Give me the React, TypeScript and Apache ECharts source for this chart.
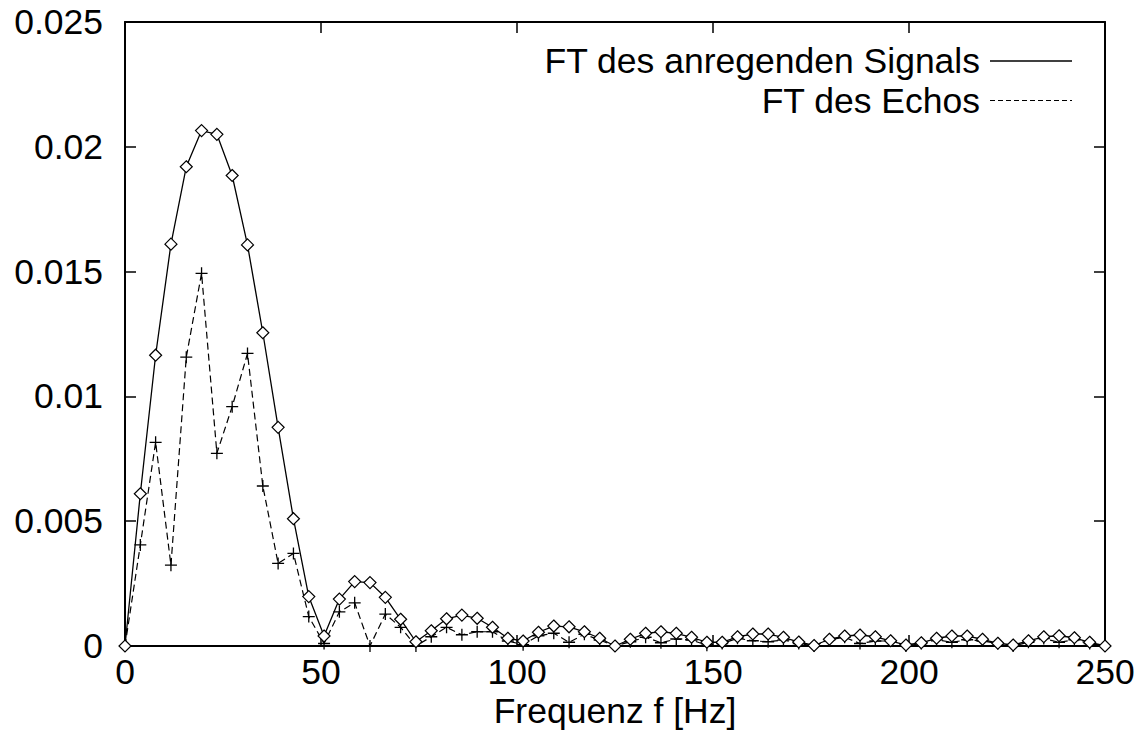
import React, { useEffect, useRef } from "react";
import * as echarts from "echarts";

// FFT bin frequencies (Hz), bin width 250/64 Hz
const frequencies = [
  0, 3.91, 7.81, 11.72, 15.63, 19.53, 23.44, 27.34, 31.25, 35.16, 39.06, 42.97, 46.88,
  50.78, 54.69, 58.59, 62.5, 66.41, 70.31, 74.22, 78.13, 82.03, 85.94, 89.84, 93.75,
  97.66, 101.56, 105.47, 109.38, 113.28, 117.19, 121.09, 125, 128.91, 132.81, 136.72,
  140.63, 144.53, 148.44, 152.34, 156.25, 160.16, 164.06, 167.97, 171.88, 175.78,
  179.69, 183.59, 187.5, 191.41, 195.31, 199.22, 203.13, 207.03, 210.94, 214.84,
  218.75, 222.66, 226.56, 230.47, 234.38, 238.28, 242.19, 246.09, 250,
];

// Spectrum magnitude of the exciting signal
const signalSpectrum = [
  0, 0.0061, 0.01165, 0.0161, 0.0192, 0.02065, 0.0205, 0.01885, 0.01607, 0.01255,
  0.00876, 0.0051, 0.00198, 0.0004, 0.00188, 0.00258, 0.00254, 0.00195, 0.00107,
  0.00017, 0.00061, 0.00109, 0.00124, 0.00111, 0.00075, 0.00031, 0.0002, 0.00055,
  0.0008, 0.00077, 0.00057, 0.00031, 0, 0.00027, 0.00051, 0.00057, 0.00051, 0.00035,
  0.00015, 0.00015, 0.00037, 0.00048, 0.00048, 0.00035, 0.00016, 0.00002, 0.00027,
  0.0004, 0.00044, 0.00037, 0.00021, 0.00004, 0.00013, 0.00031, 0.0004, 0.0004,
  0.00027, 0.00011, 0.00004, 0.00021, 0.00037, 0.00041, 0.00033, 0.00015, 0,
];

// Spectrum magnitude of the echo
const echoSpectrum = [
  0, 0.00405, 0.00816, 0.00324, 0.01157, 0.01493, 0.00772, 0.00959, 0.01172, 0.00641,
  0.00331, 0.00371, 0.00118, 0.0001, 0.00137, 0.00173, 0, 0.00128, 0.00075, 0,
  0.00037, 0.00075, 0.00045, 0.00057, 0.00057, 0.0002, 0.00005, 0.00041, 0.00051,
  0.00015, 0.00047, 0.00024, 0, 0.00017, 0.00035, 0.00013, 0.00028, 0.00024, 0.00003,
  0.0001, 0.00031, 0.00021, 0.00017, 0.00024, 0.0001, 0, 0.00025, 0.00035, 0.0001,
  0.0002, 0.0002, 0, 0.0001, 0.00025, 0.00015, 0.00025, 0.0002, 0.0001, 0, 0.00015,
  0.0003, 0.00015, 0.00025, 0.0001, 0,
];

const seriesNames = ["FT des anregenden Signals", "FT des Echos"];
const xAxisTitle = "Frequenz f [Hz]";

const FONT = "'Liberation Sans', Arial, Helvetica, sans-serif";
const FONT_SIZE = 35.5;
const LINE_HEIGHT = 28;

const pairs = (ys: number[]) => frequencies.map((f, i) => [f, ys[i]]);

export default function App() {
  const ref = useRef<HTMLDivElement>(null);

  useEffect(() => {
    if (!ref.current) return;
    const chart = echarts.init(ref.current, undefined, { renderer: "svg" });

    const axisLine = { show: true, onZero: false, lineStyle: { color: "#000", width: 2 } };
    const tick = { show: true, inside: true, length: 11, lineStyle: { color: "#000", width: 1.5 } };
    const label = {
      color: "#000",
      fontSize: FONT_SIZE,
      fontFamily: FONT,
      lineHeight: LINE_HEIGHT,
    };

    const legendY = [61, 100.5];
    const legendText = (text: string, y: number) => ({
      type: "text",
      x: 980,
      y,
      style: {
        text,
        align: "right",
        verticalAlign: "middle",
        fontSize: FONT_SIZE,
        fontFamily: FONT,
        lineHeight: LINE_HEIGHT,
        fill: "#000",
      },
    });

    chart.setOption({
      animation: false,
      backgroundColor: "#fff",
      grid: { left: 125, right: 41, top: 22, bottom: 85, outerBoundsMode: "none" },
      xAxis: [
        {
          type: "value",
          position: "bottom",
          min: 0,
          max: 250,
          interval: 50,
          axisLine,
          axisTick: tick,
          axisLabel: { ...label, margin: 12 },
          splitLine: { show: false },
          name: xAxisTitle,
          nameLocation: "middle",
          nameGap: 51,
          nameMoveOverlap: false,
          nameTextStyle: { ...label },
        },
        {
          type: "value",
          position: "top",
          min: 0,
          max: 250,
          interval: 50,
          axisLine,
          axisTick: tick,
          axisLabel: { show: false },
          splitLine: { show: false },
        },
      ],
      yAxis: [
        {
          type: "value",
          position: "left",
          min: 0,
          max: 0.025,
          interval: 0.005,
          axisLine,
          axisTick: tick,
          axisLabel: {
            ...label,
            margin: 22,
            formatter: (v: number) => String(parseFloat(v.toFixed(3))),
          },
          splitLine: { show: false },
        },
        {
          type: "value",
          position: "right",
          min: 0,
          max: 0.025,
          interval: 0.005,
          axisLine,
          axisTick: tick,
          axisLabel: { show: false },
          splitLine: { show: false },
        },
      ],
      graphic: [
        legendText(seriesNames[0], legendY[0]),
        {
          type: "line",
          shape: { x1: 990, y1: legendY[0], x2: 1072, y2: legendY[0] },
          style: { stroke: "#000", lineWidth: 1.3 },
        },
        legendText(seriesNames[1], legendY[1]),
        {
          type: "line",
          shape: { x1: 990, y1: legendY[1], x2: 1072, y2: legendY[1] },
          style: { stroke: "#000", lineWidth: 1.2, lineDash: [5, 3] },
        },
      ],
      series: [
        {
          name: seriesNames[0],
          type: "line",
          xAxisIndex: 0,
          yAxisIndex: 0,
          data: pairs(signalSpectrum),
          showSymbol: true,
          showAllSymbol: true,
          symbol: "path://M5,0L10,5L5,10L0,5Z",
          symbolSize: [12, 12],
          itemStyle: { color: "#fff", borderColor: "#000", borderWidth: 1.2 },
          lineStyle: { color: "#000", width: 1.3 },
          z: 3,
        },
        {
          name: seriesNames[1],
          type: "line",
          xAxisIndex: 0,
          yAxisIndex: 0,
          data: pairs(echoSpectrum),
          showSymbol: true,
          showAllSymbol: true,
          symbol: "path://M0,5L10,5M5,0L5,10",
          symbolSize: [12, 12],
          itemStyle: { color: "none", borderColor: "#000", borderWidth: 1.3 },
          lineStyle: { color: "#000", width: 1.2, type: [7, 4] },
          z: 2,
        },
      ],
    });

    return () => chart.dispose();
  }, []);

  return (
    <div
      ref={ref}
      style={{ position: "absolute", left: 0, top: 0, width: 1146, height: 731 }}
    />
  );
}
